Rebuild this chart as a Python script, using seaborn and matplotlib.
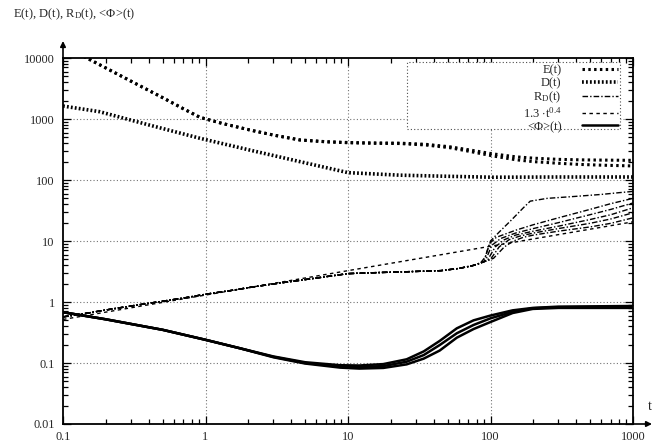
import numpy as np
import pandas as pd
import matplotlib
matplotlib.use("Agg")
import matplotlib.pyplot as plt
import matplotlib.ticker as mticker
from matplotlib.patches import Rectangle
import seaborn as sns

# ---- energy E(t) ----
t_E = [0.14, 0.2, 0.3, 0.5, 0.7, 0.914, 1.3, 2.05, 3, 4.6, 7, 10, 15, 23, 35,
       52, 75, 104, 150, 200, 300, 425, 600, 1000]
E_hi = [10600, 6850, 4170, 2240, 1470, 1065, 850, 660, 545, 453, 425, 412, 405,
        402, 385, 350, 305, 268, 240, 228, 218, 214, 212, 210]
E_lo = [10600, 6850, 4170, 2240, 1470, 1065, 850, 660, 545, 453, 422, 408, 400,
        396, 375, 338, 288, 248, 215, 200, 188, 180, 175, 170]

# ---- D(t) ----
t_D = [0.1, 0.18, 0.4, 0.914, 2.05, 4.6, 10, 23, 50, 104, 300, 1000]
D_vals = [1630, 1320, 800, 483, 309, 200, 132, 120, 115, 111, 112, 112]

# ---- R_D(t): common early growth, then individual runs ----
t_R_early = [0.1, 0.15, 0.2, 0.3, 0.5, 0.7, 1, 1.5, 2, 3, 5, 7, 10, 15, 20,
             30, 45, 60, 75, 85]
R_early = [0.57, 0.66, 0.74, 0.86, 1.03, 1.16, 1.34, 1.54, 1.72, 1.98, 2.33,
           2.6, 2.92, 3.02, 3.08, 3.17, 3.27, 3.55, 3.95, 4.35]
t_R_run0 = [92, 100, 115, 140, 170, 190, 250, 400, 600, 800, 1000]
R_run0 = [5.5, 10, 14, 22, 35, 45, 50, 54, 58, 62, 65]
t_R_run1 = [90, 98, 110, 150, 200, 300, 500, 700, 1000]
R_run1 = [4.6, 9, 11.5, 15, 18.5, 24, 33, 41, 50]
t_R_run2 = [92, 102, 118, 150, 200, 300, 500, 700, 1000]
R_run2 = [4.7, 8.5, 11, 13.5, 16, 20, 27, 33, 42]
t_R_run3 = [95, 108, 125, 150, 200, 300, 500, 700, 1000]
R_run3 = [4.8, 8, 10.5, 12.5, 14.5, 17.5, 22.5, 27, 35]
t_R_run4 = [100, 115, 135, 160, 200, 300, 500, 700, 1000]
R_run4 = [5, 8, 10.5, 12, 13.5, 16, 19.5, 23, 29]
t_R_run5 = [105, 125, 145, 170, 200, 300, 500, 700, 1000]
R_run5 = [5.2, 8, 10, 11.5, 12.5, 14.5, 17, 19.5, 24]

# ---- reference power law 1.3 t^0.4 ----
fit_coef = 1.3
fit_exp = 0.4
t_fit = [0.1, 1000]

# ---- <Phi>(t) ----
t_phi = [0.1, 0.2, 0.5, 1, 1.75, 3, 5, 8.8, 12, 17.7, 25.8, 34, 44, 58, 76,
         100, 143, 198, 300, 1000]
phi_a = [0.68, 0.52, 0.35, 0.24, 0.174, 0.128, 0.103, 0.092, 0.091, 0.096,
         0.115, 0.155, 0.23, 0.37, 0.5, 0.6, 0.73, 0.8, 0.84, 0.86]
phi_m = [0.68, 0.52, 0.35, 0.24, 0.174, 0.126, 0.1, 0.088, 0.086, 0.089,
         0.105, 0.135, 0.197, 0.307, 0.42, 0.54, 0.69, 0.79, 0.82, 0.83]
phi_b = [0.68, 0.52, 0.35, 0.24, 0.174, 0.124, 0.098, 0.084, 0.081, 0.083,
         0.095, 0.118, 0.16, 0.26, 0.36, 0.47, 0.66, 0.77, 0.8, 0.8]

x_ticks = [0.1, 1, 10, 100, 1000]
y_ticks = [0.01, 0.1, 1, 10, 100, 1000, 10000]

sns.set_style("ticks")
plt.rcParams["font.family"] = ["Liberation Serif", "DejaVu Serif"]
plt.rcParams["mathtext.fontset"] = "custom"
plt.rcParams["mathtext.rm"] = "Liberation Serif"
plt.rcParams["mathtext.it"] = "Liberation Serif:italic"

W, H = 669, 442
fig = plt.figure(figsize=(W / 100, H / 100), dpi=100)
ax_l, ax_r, ax_t, ax_b = 63, 633, 58, 424
ax = fig.add_axes([ax_l / W, 1 - ax_b / H, (ax_r - ax_l) / W, (ax_b - ax_t) / H])


def ax_frac(px, py):
    return (px - ax_l) / (ax_r - ax_l), (ax_b - py) / (ax_b - ax_t)


black = "black"

# E(t): heavy dotted
for ev in (E_hi, E_lo):
    sns.lineplot(x=t_E, y=ev, ax=ax, color=black, lw=2.2, sort=False,
                 linestyle=(0, (0.8, 1.1)), legend=False, estimator=None)
# D(t): fine dense dots
sns.lineplot(x=t_D, y=D_vals, ax=ax, color=black, lw=2.6, sort=False,
             linestyle=(0, (0.5, 0.6)), legend=False, estimator=None)

# R_D(t): dash-dot runs
dashdot = (0, (4, 1.5, 1, 1.5))
runs = [(t_R_run0, R_run0), (t_R_run1, R_run1), (t_R_run2, R_run2),
        (t_R_run3, R_run3), (t_R_run4, R_run4), (t_R_run5, R_run5)]
for tt, rr in runs:
    sns.lineplot(x=t_R_early + tt, y=R_early + rr, ax=ax, color=black, lw=1.0,
                 sort=False, linestyle=dashdot, legend=False, estimator=None)

# reference power law
fit_vals = [fit_coef * t ** fit_exp for t in t_fit]
sns.lineplot(x=t_fit, y=fit_vals, ax=ax, color=black, lw=1.0, sort=False,
             linestyle=(0, (2.5, 2.5)), legend=False, estimator=None)

# <Phi>(t): solid runs
for pv in (phi_a, phi_m, phi_b):
    sns.lineplot(x=t_phi, y=pv, ax=ax, color=black, lw=1.8, sort=False,
                 legend=False, estimator=None)

ax.set_xscale("log")
ax.set_yscale("log")
ax.set_xlim(0.1, 1000)
ax.set_ylim(0.01, 10000)
ax.set_xlabel("")
ax.set_ylabel("")

ax.xaxis.set_major_locator(mticker.FixedLocator(x_ticks))
ax.yaxis.set_major_locator(mticker.FixedLocator(y_ticks))
ax.xaxis.set_major_formatter(mticker.FixedFormatter([f"{v:g}" for v in x_ticks]))
ax.yaxis.set_major_formatter(mticker.FixedFormatter([f"{v:g}" for v in y_ticks]))
ax.xaxis.set_minor_locator(mticker.LogLocator(base=10, subs=np.arange(2, 10)))
ax.yaxis.set_minor_locator(mticker.LogLocator(base=10, subs=np.arange(2, 10)))
ax.xaxis.set_minor_formatter(mticker.NullFormatter())
ax.yaxis.set_minor_formatter(mticker.NullFormatter())
ax.tick_params(which="both", direction="in", top=True, right=True,
               labelsize=8.8, color=black, width=0.9)
ax.tick_params(which="major", length=6)
ax.tick_params(which="minor", length=3.5)
ax.tick_params(axis="y", pad=6)
ax.tick_params(axis="x", pad=5)

for s in ax.spines.values():
    s.set_visible(True)
    s.set_color(black)
    s.set_linewidth(1.3)

# grid only at inner decades
for xv in x_ticks[1:-1]:
    ax.axvline(xv, color="0.45", lw=0.8, linestyle=(0, (1, 2)), zorder=0)
for yv in y_ticks[1:-1]:
    ax.axhline(yv, color="0.45", lw=0.8, linestyle=(0, (1, 2)), zorder=0)

# axis arrows
arrow = dict(arrowstyle="-|>", color=black, lw=1.2, mutation_scale=8,
             shrinkA=0, shrinkB=0)
ax.annotate("", xy=ax_frac(ax_l, 41), xytext=(0, 1.0), xycoords="axes fraction",
            arrowprops=arrow, annotation_clip=False)
ax.annotate("", xy=ax_frac(652, ax_b), xytext=(1.0, 0), xycoords="axes fraction",
            arrowprops=arrow, annotation_clip=False)

ax.text(*ax_frac(650, 406), "t", transform=ax.transAxes, fontsize=10,
        ha="center", va="center")
fig.text(13 / W, 1 - 14 / H, r"E(t), D(t), R$_\mathrm{D}$(t), <Φ>(t)",
         fontsize=9, ha="left", va="center")

# legend box (gnuplot-style key frame)
bx0, by0 = ax_frac(407, 129)
bx1, by1 = ax_frac(620, 62)
ax.add_patch(Rectangle((bx0, by0), bx1 - bx0, by1 - by0, transform=ax.transAxes,
                       facecolor="white", edgecolor="0.3", lw=0.8,
                       linestyle=(0, (1, 2)), zorder=4, clip_on=False))

lines = ax.get_lines()
handles = [lines[0], lines[2], lines[3], lines[9], lines[10]]
labels = ["E(t)", "D(t)", r"R$_\mathrm{D}$(t)", r"1.3 $\cdot$t$^{0.4}$",
          "<Φ>(t)"]
leg = ax.legend(handles, labels, loc="upper right",
                bbox_to_anchor=ax_frac(619, 63),
                markerfirst=False, fontsize=9, handlelength=2.9,
                handletextpad=1.6, labelspacing=0.05, borderpad=0.1,
                borderaxespad=0, frameon=False)
leg.set_zorder(5)
try:
    leg._legend_handle_box.get_children()[0].align = "right"
except Exception:
    pass

fig.savefig("out.png", dpi=100)
